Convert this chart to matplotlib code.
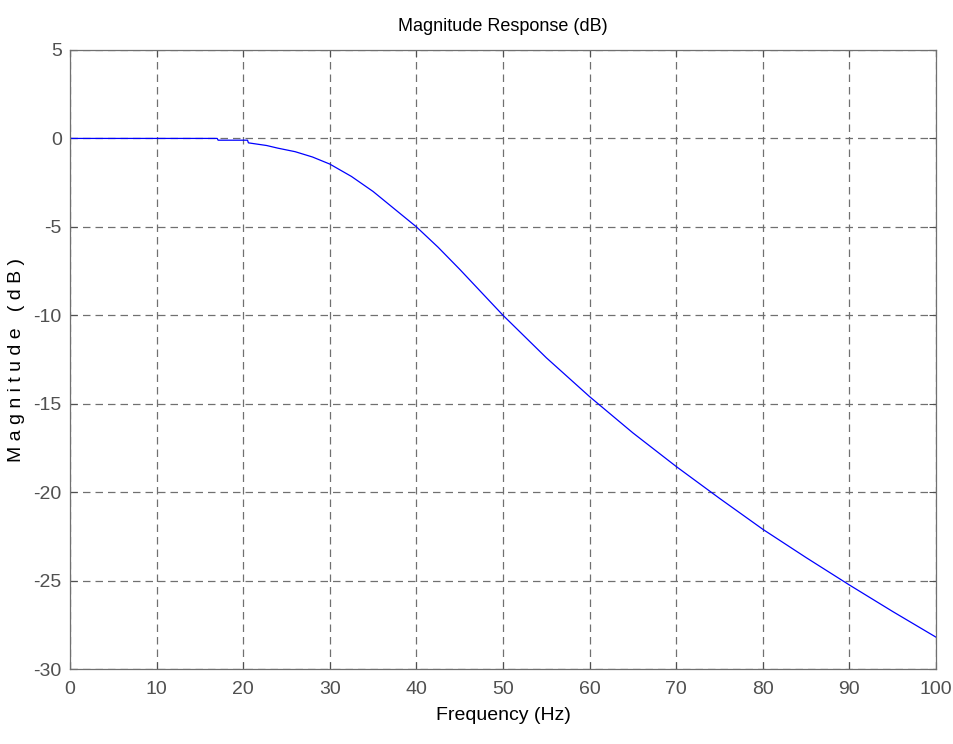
import matplotlib.pyplot as plt

# frequency response
freq = [0, 17, 17.1, 20.5, 20.6, 22.7, 24, 26, 28, 30, 32.5, 35, 37.5, 40,
        42.5, 45, 47.5, 50, 52.5, 55, 60, 65, 70, 75, 80, 85, 90, 95, 100]
mag_db = [0, 0, -0.1, -0.1, -0.25, -0.4, -0.55, -0.75, -1.05, -1.45, -2.15,
          -3.0, -4.0, -5.0, -6.15, -7.4, -8.7, -10.0, -11.2, -12.4, -14.6,
          -16.65, -18.55, -20.35, -22.1, -23.7, -25.25, -26.75, -28.2]

xticks = list(range(0, 101, 10))
yticks = list(range(-30, 6, 5))

plt.rcParams['font.family'] = ['Liberation Sans', 'DejaVu Sans']
plt.rcParams['axes.unicode_minus'] = False

fig = plt.figure(figsize=(9.54, 7.44), dpi=100)
ax = fig.add_axes([70 / 954, 75 / 744, 866 / 954, 619 / 744])

ax.plot(freq, mag_db, color='#0000ff', linewidth=0.9)

ax.set_xlim(0, 100)
ax.set_ylim(-30, 5)
ax.set_xticks(xticks)
ax.set_yticks(yticks)
ax.grid(True, color='#707070', linestyle=(0, (6, 4)), linewidth=0.9)
ax.tick_params(direction='in', top=True, right=True, length=5, width=0.8,
               colors='#505050', labelsize=14, pad=6)
ax.tick_params(axis='x', pad=9)
for sp in ax.spines.values():
    sp.set_color('#707070')
    sp.set_linewidth(0.9)

ax.set_title('Magnitude Response (dB)', fontsize=13, pad=14)
ax.set_xlabel('Frequency (Hz)', fontsize=14, labelpad=6)
ax.set_ylabel('M a g n i t u d e   ( d B )', fontsize=14, labelpad=6)

fig.savefig('out.png', dpi=100)
